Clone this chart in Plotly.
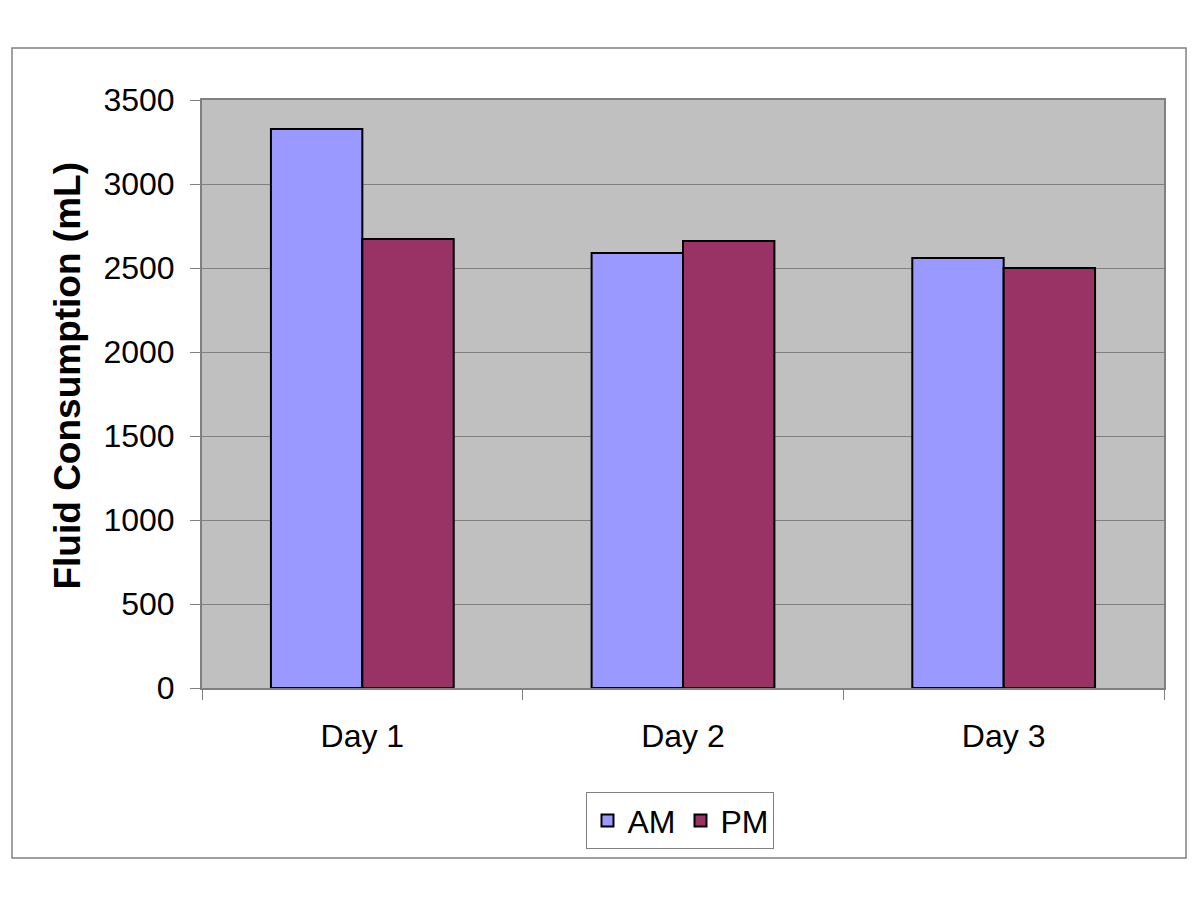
import plotly.graph_objects as go

categories = ["Day 1", "Day 2", "Day 3"]
am_values = [3327, 2590, 2560]
pm_values = [2672, 2660, 2500]
y_ticks = [0, 500, 1000, 1500, 2000, 2500, 3000, 3500]
y_title = "Fluid Consumption (mL)"

FONT = "Liberation Sans, Arial, sans-serif"

fig = go.Figure()
fig.add_trace(go.Bar(name="AM", x=categories, y=am_values,
                     marker=dict(color="#9999FF", line=dict(color="black", width=2))))
fig.add_trace(go.Bar(name="PM", x=categories, y=pm_values,
                     marker=dict(color="#993366", line=dict(color="black", width=2))))

fig.update_layout(
    width=1192, height=892,
    barmode="group", bargap=0.43, bargroupgap=0,
    paper_bgcolor="white", plot_bgcolor="#C0C0C0",
    margin=dict(l=194, r=36, t=92, b=212),
    font=dict(family=FONT, size=32, color="black"),
    showlegend=True,
    legend=dict(orientation="h", x=0.4974, xanchor="center", y=-0.177, yanchor="top",
                bordercolor="#808080", borderwidth=1, bgcolor="white",
                font=dict(size=32), itemwidth=30, tracegroupgap=0),
    xaxis=dict(showgrid=False, ticks="outside", tickson="boundaries", ticklen=10,
               tickcolor="#808080", showline=True, linecolor="#808080", linewidth=2,
               mirror=True, tickfont=dict(size=32), ticklabelstandoff=19),
    yaxis=dict(range=[0, 3500], tickvals=y_ticks, showgrid=True, gridcolor="#808080",
               gridwidth=1, ticks="outside", ticklen=10, tickcolor="#808080",
               showline=True, linecolor="#808080", linewidth=2, mirror=True,
               zeroline=False, tickfont=dict(size=32), ticklabelstandoff=9),
    annotations=[dict(text="<b>" + y_title + "</b>", xref="paper", yref="paper",
                      x=-0.1403, y=0.5298, xanchor="center", yanchor="middle",
                      textangle=-90, showarrow=False, font=dict(size=37))],
    shapes=[dict(type="rect", xref="paper", yref="paper", x0=-0.1975, x1=1.0229,
                 y0=-0.289, y1=1.0884, line=dict(color="#808080", width=1.5), layer="below")],
)

fig.write_html("out.html")
